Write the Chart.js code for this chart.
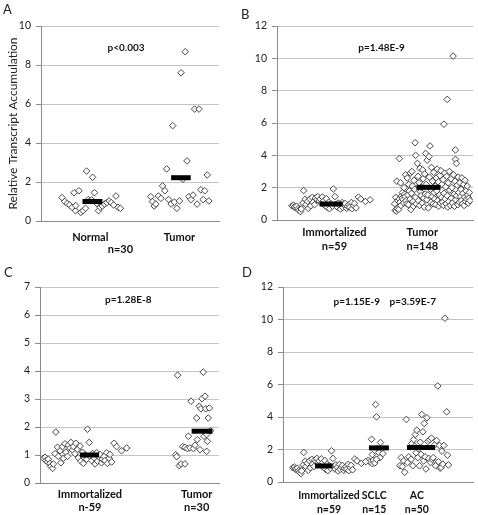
<!DOCTYPE html>
<html>
<head>
<meta charset="utf-8">
<script src="https://cdn.jsdelivr.net/npm/chart.js@4.4.1/dist/chart.umd.min.js"></script>
<style>
    body { margin: 0; background: #fff; width: 478px; height: 515px; position: relative; overflow: hidden; font-family: Lato, sans-serif; }
    canvas { position: absolute; }
    .letter { position: absolute; font-size: 13px; color: #222; }
</style>
</head>
<body>
<canvas id="chartA" width="238" height="255" style="left:0;top:0"></canvas>
<canvas id="chartB" width="240" height="255" style="left:238px;top:0"></canvas>
<canvas id="chartC" width="238" height="260" style="left:0;top:255px"></canvas>
<canvas id="chartD" width="240" height="260" style="left:238px;top:255px"></canvas>
<div class="letter" style="left:3px;top:1px">A</div>
<div class="letter" style="left:241px;top:6px">B</div>
<div class="letter" style="left:4px;top:264px">C</div>
<div class="letter" style="left:242px;top:264px">D</div>
<script>
// panel A: normal vs tumor
const aNormalX = [11.8, 13.3, 14.8, 16.1, 17.5, 19.4, 18.6, 21.3, 19.5, 22.4, 23.7, 25.0, 25.6, 29.0, 30.0, 26.6, 27.5, 32.3, 33.2, 34.5, 35.7, 37.0, 38.3, 39.5, 40.8, 42.1, 43.3, 44.6, 31.3, 28.5];
const aNormalY = [1.2, 1.0, 0.9, 0.82, 0.7, 0.53, 1.45, 1.55, 0.79, 0.44, 0.53, 0.65, 2.56, 2.24, 1.45, 1.1, 1.03, 0.53, 0.7, 0.77, 0.87, 0.94, 1.03, 0.94, 0.82, 1.28, 0.7, 0.65, 0.9, 1.08];
const aTumorX = [61.7, 62.6, 63.6, 64.5, 66.0, 67.4, 68.3, 69.6, 70.6, 71.7, 73.1, 74.0, 75.0, 76.3, 77.8, 78.7, 79.7, 81.0, 82.0, 83.1, 84.3, 85.4, 86.3, 87.7, 88.8, 89.8, 91.1, 92.0, 93.4, 94.3];
const aTumorY = [1.25, 1.0, 0.77, 0.87, 1.28, 1.16, 1.8, 1.55, 2.67, 1.1, 0.87, 4.89, 0.97, 0.65, 1.03, 7.6, 2.14, 8.68, 3.08, 1.25, 1.1, 1.33, 5.74, 0.87, 5.74, 1.6, 1.1, 1.55, 2.36, 1.03];

// immortalized cell lines (same 59 samples in B, C, D); spread = position inside the group (0..1)
const immortSpread = [0.00, 0.02, 0.03, 0.05, 0.06, 0.08, 0.09, 0.11, 0.12, 0.14, 0.15, 0.17, 0.18, 0.20, 0.21, 0.23, 0.24, 0.26, 0.27, 0.29,
    0.30, 0.32, 0.33, 0.35, 0.36, 0.38, 0.39, 0.41, 0.42, 0.44, 0.45, 0.47, 0.48, 0.50, 0.52, 0.53, 0.55, 0.56, 0.58, 0.59,
    0.61, 0.62, 0.64, 0.65, 0.67, 0.68, 0.70, 0.71, 0.73, 0.74, 0.76, 0.77, 0.79, 0.80, 0.82, 0.85, 0.88, 0.94, 1.00];
const immortY = [0.88, 0.92, 0.80, 0.75, 0.85, 0.70, 0.60, 0.52, 0.68, 1.05, 1.82, 1.28, 0.95, 1.15, 0.72, 1.30, 0.88, 1.40, 1.10, 0.95,
    1.35, 1.25, 1.45, 1.18, 1.30, 1.05, 1.42, 1.20, 0.90, 1.32, 0.78, 1.10, 0.70, 1.00, 0.85, 1.92, 1.45, 0.95, 0.80, 1.05,
    0.90, 0.68, 1.08, 0.78, 0.92, 1.02, 0.72, 0.85, 0.95, 0.80, 1.08, 0.70, 0.88, 1.02, 0.75, 1.42, 1.30, 1.15, 1.25];

// panel B: tumors (n=148)
const bTumorX = [60.0, 60.3, 60.5, 60.8, 61.1, 61.3, 61.6, 62.4, 62.0, 62.3,
    62.7, 63.0, 63.2, 63.5, 63.8, 64.0, 64.3, 64.6, 64.8, 65.1,
    65.4, 65.6, 65.9, 66.2, 66.4, 66.7, 67.0, 67.2, 67.5, 67.8,
    68.0, 68.3, 68.6, 68.8, 69.1, 69.4, 69.6, 69.9, 70.2, 70.4,
    70.6, 70.7, 71.0, 71.6, 71.9, 72.1, 72.4, 72.7, 72.9, 73.2,
    73.5, 73.7, 74.0, 74.3, 74.5, 74.8, 75.1, 75.3, 75.6, 75.8,
    76.6, 76.1, 76.4, 77.5, 76.9, 77.2, 77.7, 78.0, 78.3, 78.5,
    78.8, 79.1, 79.3, 79.6, 79.9, 80.1, 80.4, 80.7, 80.9, 81.2,
    81.5, 81.7, 82.0, 82.3, 82.5, 82.8, 83.1, 83.3, 83.6, 83.9,
    84.1, 84.4, 84.7, 84.9, 85.2, 85.5, 85.7, 85.1, 86.0, 86.3,
    86.5, 86.8, 87.1, 86.8, 87.3, 87.6, 87.9, 88.1, 88.4, 88.7,
    88.9, 89.2, 89.8, 89.5, 90.0, 90.3, 90.5, 90.8, 91.1, 91.0,
    91.0, 91.5, 91.6, 91.9, 92.2, 92.4, 92.7, 93.0, 93.2, 93.5,
    93.8, 94.0, 94.3, 94.6, 94.8, 95.1, 95.4, 95.6, 95.9, 96.2,
    96.4, 96.7, 97.0, 97.2, 97.5, 97.8, 98.1, 98.4];
const bTumorY = [1.0, 0.6, 1.4, 0.55, 2.4, 0.7, 1.2, 3.8, 0.65, 1.3,
    1.1, 2.3, 0.9, 1.5, 1.35, 1.7, 1.25, 1.05, 2.0, 1.6,
    1.45, 2.8, 1.2, 1.0, 2.6, 1.55, 0.95, 2.2, 1.8, 1.3,
    2.9, 0.65, 1.65, 3.0, 2.1, 1.15, 0.85, 2.45, 1.9, 4.78,
    1.4, 4.0, 1.0, 3.5, 2.7, 1.2, 2.3, 0.9, 3.2, 1.75,
    1.5, 2.0, 1.05, 3.1, 2.55, 1.35, 0.8, 2.85, 1.6, 4.12,
    3.7, 2.2, 1.25, 3.92, 1.55, 0.75, 2.65, 4.58, 1.9, 1.1,
    3.25, 1.45, 2.4, 1.0, 2.95, 1.7, 1.3, 2.1, 0.95, 2.6,
    1.8, 3.15, 1.2, 2.35, 0.85, 1.55, 2.75, 1.05, 3.05, 1.4,
    2.2, 1.1, 2.5, 0.9, 1.65, 2.9, 1.3, 5.92, 2.05, 1.0,
    2.7, 1.5, 0.8, 7.46, 2.3, 1.15, 3.0, 1.85, 0.9, 2.55,
    1.35, 2.0, 10.14, 1.05, 2.8, 1.6, 0.85, 2.4, 1.25, 4.33,
    3.75, 3.5, 1.5, 2.15, 0.95, 2.65, 1.7, 1.1, 2.3, 1.45,
    1.9, 1.2, 2.6, 1.0, 1.65, 2.2, 0.9, 1.4, 2.45, 1.15,
    1.8, 1.3, 2.1, 1.55, 1.05, 1.35, 1.7, 1.2];

// panel C: tumors (n=30)
const cTumorX = [76.9, 75.8, 76.4, 77.8, 78.8, 81.0, 79.7, 81.0, 82.3, 83.8, 84.4, 82.9, 85.7, 86.6, 87.5, 87.9, 89.0, 89.4, 89.9, 90.5, 91.2, 91.6, 92.2, 92.6, 93.1, 93.5, 94.0, 94.6, 95.3, 93.1];
const cTumorY = [3.85, 1.01, 0.94, 0.62, 0.68, 0.68, 1.30, 1.27, 1.23, 1.25, 2.92, 1.67, 1.23, 1.35, 2.32, 1.55, 2.74, 1.19, 2.65, 3.01, 3.96, 1.67, 3.10, 2.65, 1.73, 1.49, 2.32, 2.68, 1.87, 1.13];

// panel D: SCLC (n=15) and AC (n=50)
const dSclcX = [44.9, 45.7, 47.0, 46.6, 47.5, 48.3, 47.0, 48.7, 49.2, 49.6, 50.4, 51.3, 51.0, 52.5, 49.2];
const dSclcY = [1.34, 1.23, 1.13, 2.63, 1.34, 1.17, 1.69, 4.77, 4.01, 2.06, 1.81, 2.43, 1.50, 1.75, 1.40];
const dAcX = [61.5, 62.2, 62.8, 63.5, 64.0, 64.9, 65.5, 66.2, 67.4, 67.8, 68.3, 68.7, 69.2, 69.6, 70.0, 70.4, 70.9, 71.3, 71.8, 72.2,
    72.6, 73.0, 73.6, 74.0, 74.3, 74.8, 75.2, 75.7, 76.2, 76.7, 77.2, 77.6, 78.1, 78.5, 79.0, 79.9, 80.3, 80.8, 81.4, 81.8,
    82.3, 82.7, 83.2, 83.6, 84.1, 84.6, 85.2, 86.1, 86.5, 87.0];
const dAcY = [1.0, 1.5, 0.95, 1.3, 0.6, 3.85, 1.2, 1.55, 1.4, 2.37, 1.0, 2.61, 2.2, 2.92, 1.8, 3.19, 1.5, 2.05, 1.0, 2.45,
    1.7, 4.16, 3.09, 1.3, 3.60, 1.55, 0.8, 3.95, 2.5, 1.45, 2.6, 1.2, 2.7, 1.4, 1.5, 2.3, 1.0, 2.55, 5.91, 1.25,
    2.25, 0.85, 0.9, 1.9, 1.1, 2.25, 10.08, 4.32, 1.65, 1.05];

// group means (horizontal bars)
const aMeans = [1.0, 2.22];
const bMeans = [0.99, 2.02];
const cMeans = [1.0, 1.85];
const dMeans = [0.99, 2.10, 2.12];

// category labels
const aLabels = ['Normal', ['', 'n=30'], 'Tumor'];
const bLabels = [['Immortalized', 'n=59'], ['Tumor', 'n=148']];
const cLabels = [['Immortalized', 'n-59'], ['Tumor', 'n=30']];
const dLabels = [['Immortalized', 'n=59'], ['SCLC', 'n=15'], ['AC', 'n=50']];

const aPValues = ['p<0.003'];
const bPValues = ['p=1.48E-9'];
const cPValues = ['p=1.28E-8'];
const dPValues = ['p=1.15E-9', 'p=3.59E-7'];

const pValuePlugin = {
    id: 'pValues',
    afterDatasetsDraw(chart, args, opts) {
        const ctx = chart.ctx;
        ctx.save();
        ctx.font = 'bold 10px Lato';
        ctx.fillStyle = '#111';
        ctx.textAlign = 'center';
        ctx.textBaseline = 'middle';
        (opts.items || []).forEach(it => {
            ctx.fillText(it.text, chart.scales.x.getPixelForValue(it.x), chart.scales.y.getPixelForValue(it.y));
        });
        ctx.restore();
    }
};

function pts(xs, ys) {
    return xs.map((x, i) => ({x: x, y: ys[i]}));
}

function immortPts(lo, hi) {
    return immortSpread.map((f, i) => ({x: lo + f * (hi - lo), y: immortY[i]}));
}

function dots(data) {
    return {
        type: 'scatter',
        data: data,
        pointStyle: 'rectRot',
        pointRadius: 3.3,
        borderWidth: 0.9,
        borderColor: '#333',
        backgroundColor: '#fff',
        order: 2
    };
}

function meanBar(x0, x1, y) {
    return {
        type: 'line',
        data: [{x: x0, y: y}, {x: x1, y: y}],
        borderColor: '#000',
        borderWidth: 5,
        borderCapStyle: 'butt',
        pointRadius: 0,
        order: 0
    };
}

function makePanel(id, p) {
    const yScale = {
        min: 0,
        max: p.yMax,
        ticks: {stepSize: p.yStep, padding: 5, color: '#222', font: {family: 'Lato', size: 10.5}},
        grid: {color: '#c4c4c4', tickColor: '#8a8a8a', tickLength: 5},
        border: {color: '#8a8a8a'},
        afterFit: s => { s.width = p.yWidth; }
    };
    if (p.yTitle) {
        yScale.title = {display: true, text: p.yTitle, color: '#222', font: {family: 'Lato', size: 12}, padding: {top: 6, bottom: 0}};
    }
    return new Chart(document.getElementById(id), {
        type: 'scatter',
        data: {datasets: p.datasets},
        options: {
            responsive: false,
            animation: false,
            devicePixelRatio: 1,
            layout: {padding: {top: p.top, right: p.right, left: 0, bottom: 0}},
            plugins: {
                legend: {display: false},
                tooltip: {enabled: false},
                pValues: {items: p.pItems}
            },
            scales: {
                x: {
                    type: 'linear',
                    min: 0,
                    max: 100,
                    grid: {display: false, drawTicks: false},
                    border: {color: '#8a8a8a'},
                    afterBuildTicks: s => { s.ticks = p.tickPos.map(v => ({value: v})); },
                    ticks: {
                        autoSkip: false,
                        maxRotation: 0,
                        padding: p.labelPad,
                        color: '#111',
                        font: {family: 'Lato', size: p.labelSize, weight: 'bold', lineHeight: p.lineHeight},
                        callback: (v, i) => p.labels[i]
                    },
                    afterFit: s => { s.height = p.xHeight; }
                },
                y: yScale
            }
        },
        plugins: [pValuePlugin]
    });
}

makePanel('chartA', {
    yMax: 10, yStep: 2, yWidth: 41, xHeight: 34, top: 26, right: 19,
    yTitle: 'Relative Transcript Accumulation',
    tickPos: [27.7, 44.6, 77.8], labels: aLabels, labelPad: 10, lineHeight: 1.1, labelSize: 11,
    pItems: [{x: 47.8, y: 8.9, text: aPValues[0]}],
    datasets: [
        dots(pts(aNormalX, aNormalY)),
        dots(pts(aTumorX, aTumorY)),
        meanBar(23.3, 34.5, aMeans[0]),
        meanBar(73.1, 84.1, aMeans[1])
    ]
});

makePanel('chartB', {
    yMax: 12, yStep: 2, yWidth: 39, xHeight: 35, top: 26, right: 4,
    tickPos: [29.3, 74.1], labels: bLabels, labelPad: 5, lineHeight: 1.3, labelSize: 11,
    pItems: [{x: 53.3, y: 10.66, text: bPValues[0]}],
    datasets: [
        dots(immortPts(7.6, 47.5)),
        dots(pts(bTumorX, bTumorY)),
        meanBar(21.7, 33.5, bMeans[0]),
        meanBar(71.1, 83.4, bMeans[1])
    ]
});

makePanel('chartC', {
    yMax: 7, yStep: 1, yWidth: 40, xHeight: 32, top: 32, right: 19,
    tickPos: [27.9, 87.5], labels: cLabels, labelPad: 5, lineHeight: 1.2, labelSize: 11,
    pItems: [{x: 49.3, y: 6.55, text: cPValues[0]}],
    datasets: [
        dots(immortPts(1.9, 48.4)),
        dots(pts(cTumorX, cTumorY)),
        meanBar(22.3, 33.0, cMeans[0]),
        meanBar(84.7, 96.3, cMeans[1])
    ]
});

makePanel('chartD', {
    yMax: 12, yStep: 2, yWidth: 45, xHeight: 33, top: 32, right: 3,
    tickPos: [24.2, 48.0, 70.4], labels: dLabels, labelPad: 7, lineHeight: 1.3, labelSize: 10.5,
    pItems: [{x: 38.8, y: 11.07, text: dPValues[0]}, {x: 68.3, y: 11.07, text: dPValues[1]}],
    datasets: [
        dots(immortPts(5.2, 43.5)),
        dots(pts(dSclcX, dSclcY)),
        dots(pts(dAcX, dAcY)),
        meanBar(16.9, 26.1, dMeans[0]),
        meanBar(45.2, 55.7, dMeans[1]),
        meanBar(65.2, 80.0, dMeans[2])
    ]
});
</script>
</body>
</html>
